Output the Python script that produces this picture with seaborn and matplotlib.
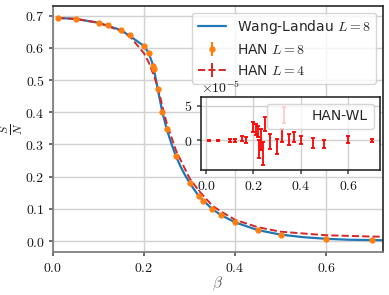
import pandas as pd
import seaborn as sns
import matplotlib.pyplot as plt
from matplotlib.lines import Line2D
from matplotlib.ticker import FuncFormatter

# HAN L=8 samples (beta, S/N) and HAN - WL difference (units of 1e-5)
beta = [0.01, 0.05, 0.10, 0.12, 0.15, 0.17, 0.20, 0.21, 0.2205, 0.222, 0.23, 0.24,
        0.25, 0.27, 0.30, 0.32, 0.33, 0.35, 0.37, 0.40, 0.45, 0.50, 0.60, 0.70]
han8 = [0.693, 0.690, 0.678, 0.671, 0.655, 0.641, 0.606, 0.585, 0.544, 0.533, 0.473, 0.402,
        0.347, 0.264, 0.181, 0.140, 0.124, 0.099, 0.080, 0.058, 0.034, 0.020, 0.007, 0.003]
diff = [0.0, 0.0, 0.0, 0.0, 0.3, 0.1, 1.9, 1.6, 1.3, -1.3, 0.1, -1.9,
        2.4, -0.1, -0.9, 0.7, 3.7, 0.1, 0.5, 0.05, -0.35, -0.5, 0.1, 0.0]
diff_err = [0.05, 0.05, 0.2, 0.2, 0.4, 0.4, 0.7, 0.8, 0.8, 1.3, 1.5, 1.7,
            1.0, 1.1, 1.1, 0.9, 1.15, 0.8, 0.7, 0.55, 0.7, 0.55, 0.5, 0.25]

# Wang-Landau reference curve, L=8
wl_beta = [0.01, 0.05, 0.10, 0.15, 0.20, 0.21, 0.22, 0.23, 0.24, 0.25, 0.26, 0.27, 0.28,
           0.29, 0.30, 0.32, 0.35, 0.37, 0.40, 0.45, 0.50, 0.55, 0.60, 0.65, 0.70, 0.75]
wl_s = [0.693, 0.690, 0.678, 0.655, 0.606, 0.585, 0.546, 0.473, 0.402, 0.347, 0.303, 0.264,
        0.232, 0.205, 0.181, 0.140, 0.099, 0.080, 0.058, 0.034, 0.020, 0.012, 0.007, 0.004,
        0.003, 0.002]

# HAN L=4
l4_beta = [0.01, 0.05, 0.10, 0.15, 0.17, 0.20, 0.21, 0.22, 0.23, 0.24, 0.25, 0.27, 0.30,
           0.32, 0.35, 0.37, 0.40, 0.45, 0.50, 0.60, 0.70, 0.75]
l4_s = [0.693, 0.690, 0.678, 0.652, 0.634, 0.583, 0.556, 0.520, 0.480, 0.420, 0.365, 0.282,
        0.195, 0.157, 0.110, 0.091, 0.066, 0.043, 0.029, 0.018, 0.014, 0.013]

sns.set_theme(style="whitegrid")
plt.rcParams.update({
    "font.family": ["DejaVu Sans"],
    "mathtext.fontset": "cm",
    "font.size": 10,
    "xtick.labelsize": 10,
    "ytick.labelsize": 10,
    "legend.fontsize": 10,
    "axes.labelsize": 11,
    "xtick.bottom": True,
    "ytick.left": True,
    "xtick.major.size": 3,
    "ytick.major.size": 3,
    "xtick.major.pad": 3,
    "ytick.major.pad": 3,
    "xtick.color": "0.35",
    "ytick.color": "0.35",
    "xtick.labelcolor": "0.1",
    "ytick.labelcolor": "0.1",
    "grid.color": "0.82",
    "grid.linewidth": 1.0,
})

fmt = FuncFormatter(lambda v, p: r"$\mathrm{%.1f}$" % v)
fmt_int = FuncFormatter(lambda v, p: r"$\mathrm{%d}$" % round(v))

fig = plt.figure(figsize=(3.89, 2.95), dpi=100)
ax = fig.add_axes([0.1362, 0.1447, 0.8484, 0.836])

df_wl = pd.DataFrame({"beta": wl_beta, "s": wl_s})
sns.lineplot(data=df_wl, x="beta", y="s", ax=ax, color="#1f77b4", lw=1.6,
             label=r"Wang-Landau $L=8$")
ax.errorbar(beta, han8, yerr=[e * 1e-5 for e in diff_err], fmt="o", ms=3.5,
            color="#ff7f0e", ecolor="#ff7f0e", label=r"HAN $L=8$", zorder=3)
ax.errorbar(l4_beta, l4_s, yerr=[1e-5] * len(l4_beta), fmt="--", lw=1.4,
            color="#d62728", label=r"HAN $L=4$", zorder=2)

ax.set_xlim(0, 0.725)
ax.set_ylim(-0.035, 0.731)
ax.set_xticks([0.0, 0.2, 0.4, 0.6])
ax.set_yticks([0.0, 0.1, 0.2, 0.3, 0.4, 0.5, 0.6, 0.7])
ax.xaxis.set_major_formatter(fmt)
ax.yaxis.set_major_formatter(fmt)
ax.set_xlabel(r"$\beta$", color="0.4", labelpad=0)
ax.set_ylabel(r"$\frac{S}{N}$", color="0.1", fontsize=12, labelpad=0)
for side in ["left", "bottom"]:
    ax.spines[side].set_color("0.5")
    ax.spines[side].set_linewidth(1.3)
for side in ["top", "right"]:
    ax.spines[side].set_color("0.15")
    ax.spines[side].set_linewidth(1.2)
ax.legend(loc="upper right", framealpha=0.8)

# inset: HAN - WL
axin = fig.add_axes([0.5167, 0.4227, 0.4614, 0.2495])
axin.errorbar(beta, diff, yerr=diff_err, fmt="none", ecolor="red", elinewidth=1.3,
              capsize=1.6, capthick=1.3)
axin.set_xlim(-0.022, 0.737)
axin.set_ylim(-4.3, 6.3)
axin.set_xticks([0.0, 0.2, 0.4, 0.6])
axin.set_yticks([0, 5])
axin.xaxis.set_major_formatter(fmt)
axin.yaxis.set_major_formatter(fmt_int)
for side in axin.spines:
    axin.spines[side].set_color("0.1")
    axin.spines[side].set_linewidth(1.1)
axin.text(0.0, 1.015, r"$\times\mathrm{10}^{-5}$", transform=axin.transAxes,
          ha="left", va="bottom", fontsize=10, color="0.1")
axin.legend(handles=[Line2D([], [], color="none")], labels=["HAN-WL"],
            loc="upper right", framealpha=0.8)

fig.savefig("out.png", dpi=100)
